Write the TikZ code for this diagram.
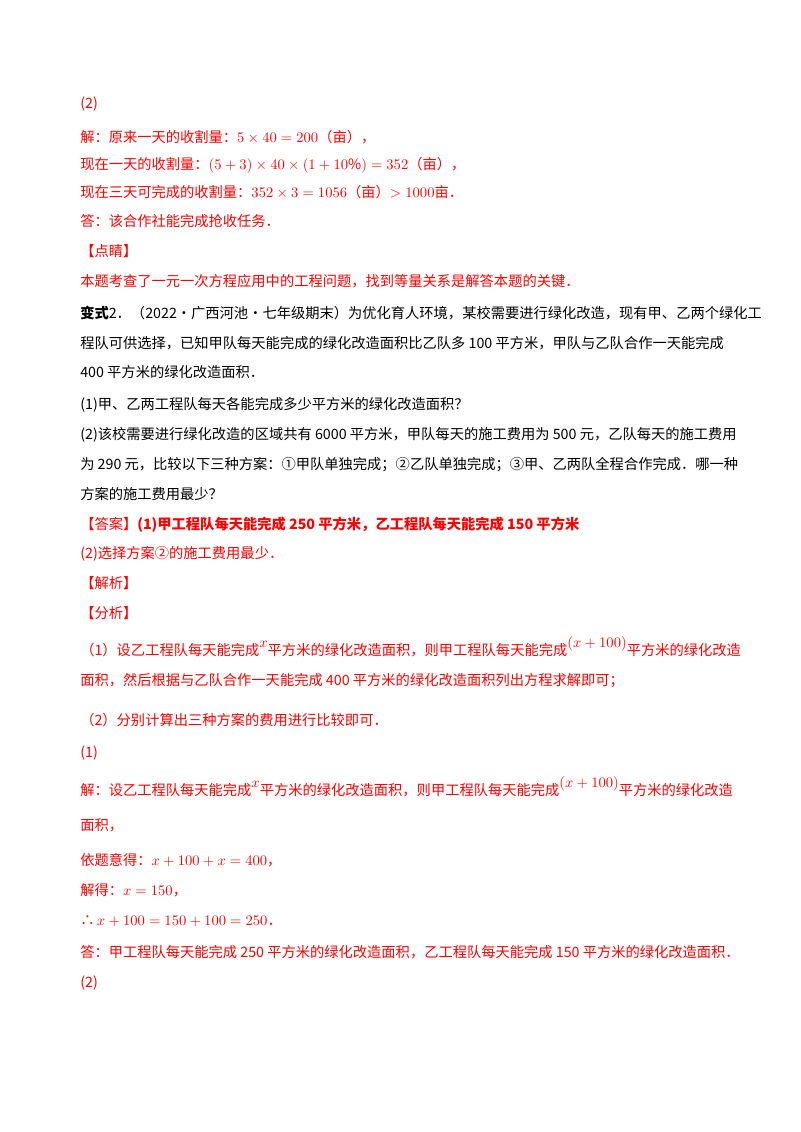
\documentclass[tikz,border=0pt]{standalone}
\usepackage{fontspec}
\setmainfont{Noto Sans CJK SC}
\usepackage{xcolor}
\definecolor{rd}{RGB}{255,0,0}
\newcommand{\rsx}[1]{\raisebox{0.55em}{$#1$}}
\begin{document}
\begin{tikzpicture}[x=0.75pt,y=-0.75pt,
  ln/.style={anchor=base west,inner sep=0pt,font=\fontsize{10.7pt}{12pt}\selectfont},
  r/.style={ln,text=rd},
  k/.style={ln,text=black}]
\useasboundingbox (0,0) rectangle (800,1132);
\node[r] (a1) at (80,108) {(2)};
\node[r] (a2) at (80,142) {解：原来一天的收割量：$5\times40=200$（亩），};
\node[r] (a3) at (80,169) {现在一天的收割量：$(5+3)\times40\times(1+10\%)=352$（亩），};
\node[r] (a4) at (80,197) {现在三天可完成的收割量：$352\times3=1056$（亩）$>1000$亩．};
\node[r] (a5) at (80,226) {答：该合作社能完成抢收任务．};
\node[r] (a6) at (80,256) {【点睛】};
\node[r] (a7) at (80,286) {本题考查了一元一次方程应用中的工程问题，找到等量关系是解答本题的关键．};
\node[k] (b1) at (80,318) {\textbf{变式}2．（2022·广西河池·七年级期末）为优化育人环境，某校需要进行绿化改造，现有甲、乙两个绿化工};
\node[k] (b2) at (80,348) {程队可供选择，已知甲队每天能完成的绿化改造面积比乙队多 100 平方米，甲队与乙队合作一天能完成};
\node[k] (b3) at (80,377) {400 平方米的绿化改造面积．};
\node[k] (b4) at (80,409) {(1)甲、乙两工程队每天各能完成多少平方米的绿化改造面积？};
\node[k] (b5) at (80,439) {(2)该校需要进行绿化改造的区域共有 6000 平方米，甲队每天的施工费用为 500 元，乙队每天的施工费用};
\node[k] (b6) at (80,469) {为 290 元，比较以下三种方案：①甲队单独完成；②乙队单独完成；③甲、乙两队全程合作完成．哪一种};
\node[k] (b7) at (80,499) {方案的施工费用最少？};
\node[r] (c1) at (80,529) {【答案】\textbf{(1)甲工程队每天能完成 250 平方米，乙工程队每天能完成 150 平方米}};
\node[r] (c2) at (80,558) {(2)选择方案②的施工费用最少．};
\node[r] (c3) at (80,588) {【解析】};
\node[r] (c4) at (80,618) {【分析】};
\node[r] (c5) at (80,655) {（1）设乙工程队每天能完成\rsx{x}平方米的绿化改造面积，则甲工程队每天能完成\rsx{(x+100)}平方米的绿化改造};
\node[r] (c6) at (80,685) {面积，然后根据与乙队合作一天能完成 400 平方米的绿化改造面积列出方程求解即可；};
\node[r] (c7) at (80,725) {（2）分别计算出三种方案的费用进行比较即可．};
\node[r] (d1) at (80,757) {(1)};
\node[r] (d2) at (80,795) {解：设乙工程队每天能完成\rsx{x}平方米的绿化改造面积，则甲工程队每天能完成\rsx{(x+100)}平方米的绿化改造};
\node[r] (d3) at (80,830) {面积，};
\node[r] (d4) at (80,865) {依题意得：$x+100+x=400$，};
\node[r] (d5) at (80,895) {解得：$x=150$，};
\node[r] (d6) at (80,925) {∴$\,x+100=150+100=250$．};
\node[r] (d7) at (80,957) {答：甲工程队每天能完成 250 平方米的绿化改造面积，乙工程队每天能完成 150 平方米的绿化改造面积．};
\node[r] (d8) at (80,987) {(2)};
\end{tikzpicture}
\end{document}
